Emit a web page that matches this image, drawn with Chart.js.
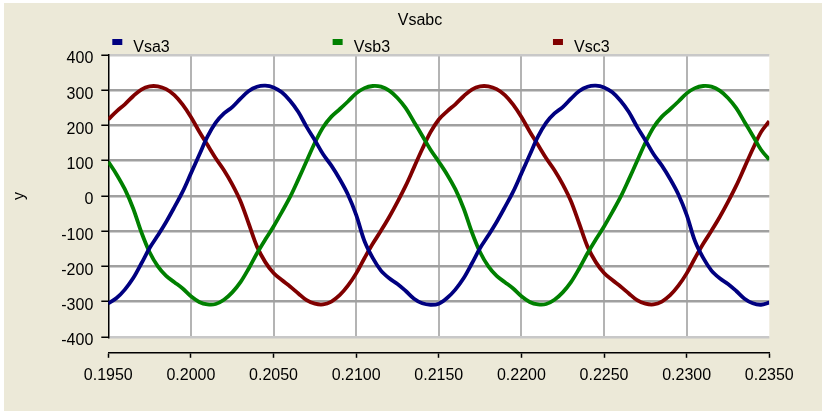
<!DOCTYPE html>
<html>
<head>
<meta charset="utf-8">
<script src="https://cdn.jsdelivr.net/npm/chart.js@4.4.1/dist/chart.umd.min.js"></script>
<style>
    html, body { margin: 0; padding: 0; background: #ffffff; }
    #wrap { width: 822px; height: 411px; }
</style>
</head>
<body>
<div id="wrap"><canvas id="chart"></canvas></div>
<script>
const chartTitle = 'Vsabc'
const seriesNames = ['Vsa3', 'Vsb3', 'Vsc3']
const seriesColors = ['#000080', '#008000', '#800000']

// samples every 0.5 ms, 0.1950 .. 0.2350 s
const tStart = 0.195
const tStep = 0.0005

const vsa3 = [
    -305, -290, -266, -234, -192, -148, -112, -74, -32, 12,
    64, 116, 168, 208, 234, 252, 276, 298, 310, 313,
    308, 294, 270, 238, 196, 158, 118, 86, 48, 4,
    -54, -128, -176, -212, -234, -250, -270, -292, -305, -309,
    -306, -290, -266, -234, -192, -148, -112, -74, -32, 12,
    64, 116, 168, 208, 234, 252, 276, 298, 310, 313,
    308, 294, 270, 238, 196, 158, 118, 86, 48, 4,
    -54, -128, -176, -212, -234, -250, -270, -292, -305, -309,
    -303
]
const vsb3 = [
    97, 61, 19, -35, -103, -160, -200, -227, -245, -263,
    -285, -301, -308, -307, -295, -274, -245, -206, -163, -124,
    -87, -46, -3, 47, 99, 151, 195, 225, 246, 268,
    291, 306, 312, 310, 299, 278, 249, 210, 171, 131,
    97, 61, 19, -35, -103, -160, -200, -227, -245, -263,
    -285, -301, -308, -307, -295, -274, -245, -206, -163, -124,
    -87, -46, -3, 47, 99, 151, 195, 225, 246, 268,
    291, 306, 312, 310, 299, 278, 249, 210, 171, 131,
    103
]
const vsc3 = [
    217, 240, 260, 283, 302, 311, 311, 303, 286, 259,
    224, 183, 145, 107, 73, 33, -15, -79, -144, -188,
    -219, -239, -257, -277, -296, -306, -308, -300, -282, -255,
    -220, -177, -136, -99, -60, -17, 29, 81, 133, 181,
    217, 240, 260, 283, 302, 311, 311, 303, 286, 259,
    224, 183, 145, 107, 73, 33, -15, -79, -144, -188,
    -219, -239, -257, -277, -296, -306, -308, -300, -282, -255,
    -220, -177, -136, -99, -60, -17, 29, 81, 133, 181,
    212
]

const times = vsa3.map((v, i) => tStart + i * tStep)
const seriesValues = [vsa3, vsb3, vsc3]

Chart.defaults.font.family = 'Arial, "Liberation Sans", sans-serif'
Chart.defaults.font.size = 16
Chart.defaults.color = '#000000'

// beige frame, white plot, title and legend row
const framePlugin = {
    id: 'frame',
    beforeDraw(chart){
        const {ctx, chartArea: a, width, height} = chart
        ctx.save()
        ctx.fillStyle = '#ffffff'
        ctx.fillRect(0, 0, width, height)
        ctx.fillStyle = '#ECE9D8'
        ctx.fillRect(4, 3, width - 4, height - 3)
        ctx.fillStyle = '#ffffff'
        ctx.fillRect(a.left, a.top, a.right - a.left, a.bottom - a.top)
        ctx.restore()
    },
    afterDraw(chart){
        const {ctx, chartArea: a} = chart
        ctx.save()
        ctx.font = '16px Arial, "Liberation Sans", sans-serif'
        ctx.fillStyle = '#000000'
        ctx.textBaseline = 'middle'
        ctx.textAlign = 'center'
        ctx.fillText(chartTitle, 420, 21)

        const slot = (a.right - a.left) / 3
        ctx.textAlign = 'left'
        chart.data.datasets.forEach((ds, i) => {
            const x = a.left + 4 + i * slot
            ctx.fillStyle = ds.borderColor
            ctx.fillRect(x, 39, 10, 6)
            ctx.fillStyle = '#000000'
            ctx.fillText(ds.label, x + 21, 48)
        })
        ctx.restore()
    }
}

new Chart(document.getElementById('chart'), {
    type: 'line',
    data: {
        datasets: seriesNames.map((name, i) => ({
            label: name,
            data: times.map((t, k) => ({x: t, y: seriesValues[i][k]})),
            borderColor: seriesColors[i],
            backgroundColor: seriesColors[i],
            borderWidth: 3.8,
            pointRadius: 0,
            tension: 0.35,
            fill: false
        }))
    },
    options: {
        responsive: true,
        maintainAspectRatio: false,
        animation: false,
        layout: {
            padding: {top: 55, left: 0, right: 52.7, bottom: 18}
        },
        plugins: {
            legend: {display: false},
            title: {display: false},
            tooltip: {enabled: false}
        },
        scales: {
            x: {
                type: 'linear',
                position: 'bottom',
                min: 0.195,
                max: 0.235,
                weight: 0,
                ticks: {display: false, stepSize: 0.005},
                grid: {
                    color: ctx => (ctx.index === 0 || ctx.index === ctx.scale.ticks.length - 1) ? 'rgba(0,0,0,0)' : '#B4B4B4',
                    lineWidth: 2,
                    drawTicks: true,
                    tickLength: 16,
                    tickColor: 'rgba(0,0,0,0)'
                },
                border: {display: false},
                afterFit(scale){ scale.height = 16 }
            },
            x2: {
                type: 'linear',
                position: 'bottom',
                min: 0.195,
                max: 0.235,
                weight: 1,
                ticks: {
                    stepSize: 0.005,
                    padding: 8,
                    maxRotation: 0,
                    autoSkip: false,
                    callback: v => v.toFixed(4)
                },
                grid: {
                    drawOnChartArea: false,
                    tickLength: 5,
                    tickColor: '#000000',
                    tickWidth: 1.5
                },
                border: {display: true, color: '#000000', width: 1.5}
            },
            y: {
                min: -400,
                max: 400,
                ticks: {stepSize: 100, padding: 8, labelOffset: 4},
                grid: {
                    color: ctx => (ctx.tick && Math.abs(ctx.tick.value) === 400) ? '#C8C8C8' : '#A0A0A0',
                    lineWidth: 2.5,
                    tickLength: 7,
                    tickColor: '#000000',
                    tickWidth: 1.5
                },
                border: {display: true, color: '#000000', width: 1.5},
                title: {display: true, text: 'y', padding: {top: 10, bottom: 0}},
                afterFit(scale){ scale.width = 108.3 }
            }
        }
    },
    plugins: [framePlugin]
})
</script>
</body>
</html>
